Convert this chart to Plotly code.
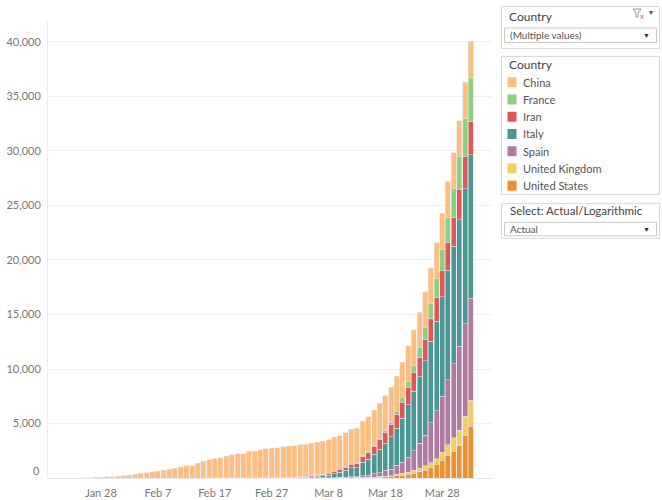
import plotly.graph_objects as go
import pandas as pd

# ---------------- data ----------------
dates = pd.date_range("2020-01-25", "2020-04-02", freq="D")
tick_dates = ["2020-01-28", "2020-02-07", "2020-02-17", "2020-02-27",
              "2020-03-08", "2020-03-18", "2020-03-28"]
tick_labels = ["Jan 28", "Feb 7", "Feb 17", "Feb 27", "Mar 8", "Mar 18", "Mar 28"]
y_ticks = [5000, 10000, 15000, 20000, 25000, 30000, 35000, 40000]

china = [26, 42, 56, 82, 131, 133, 171, 213,
         259, 361, 425, 490, 562, 632, 717, 804, 904, 1011, 1111, 1116, 1368, 1520,
         1662, 1765, 1863, 2002, 2114, 2236, 2236, 2441, 2443, 2593, 2663, 2715, 2744,
         2788, 2835,
         2870, 2912, 2945, 2981, 3013, 3042, 3070, 3097, 3120, 3136, 3158, 3173, 3180,
         3193, 3203, 3217, 3230, 3241, 3249, 3253, 3259, 3274, 3274, 3281, 3285, 3291,
         3296, 3299, 3304, 3308, 3309,
         3316]
france = [0, 0, 0, 0, 0, 0, 0, 0,
          0, 0, 0, 0, 0, 0, 0, 0, 0, 0, 0, 0, 0, 0,
          1, 1, 1, 1, 1, 1, 1, 1, 1, 1, 1, 2, 2, 2, 2,
          2, 3, 4, 4, 6, 9, 11, 19, 19, 33, 48, 48, 79, 91, 91, 148, 148, 148, 243, 450,
          562, 674, 860, 1100, 1331, 1696, 1995, 2314, 2606, 3024, 3523,
          4043]
iran = [0, 0, 0, 0, 0, 0, 0, 0,
        0, 0, 0, 0, 0, 0, 0, 0, 0, 0, 0, 0, 0, 0, 0, 0, 0, 0,
        2, 2, 4, 5, 8, 12, 16, 19, 26, 34, 43,
        54, 66, 77, 92, 107, 124, 145, 194, 237, 291, 354, 429, 514, 611, 724, 853, 988,
        1135, 1284, 1433, 1556, 1685, 1812, 1934, 2077, 2234, 2378, 2517, 2640, 2757, 2898,
        3036]
italy = [0, 0, 0, 0, 0, 0, 0, 0,
         0, 0, 0, 0, 0, 0, 0, 0, 0, 0, 0, 0, 0, 0, 0, 0, 0, 0, 0, 0,
         1, 2, 3, 7, 10, 12, 17, 21, 29,
         34, 52, 79, 107, 148, 197, 233, 366, 463, 631, 827, 827, 1266, 1441, 1809, 2158,
         2503, 2978, 3405, 4032, 4825, 5476, 6077, 6820, 7503, 8215, 9134, 10023, 10779,
         11591, 12428,
         13155]
spain = [0, 0, 0, 0, 0, 0, 0, 0,
         0, 0, 0, 0, 0, 0, 0, 0, 0, 0, 0, 0, 0, 0, 0, 0, 0, 0, 0, 0, 0, 0, 0, 0, 0, 0, 0, 0, 0,
         0, 0, 1, 2, 3, 5, 10, 17, 28, 35, 54, 55, 133, 195, 289, 342, 533, 623, 830, 1043,
         1375, 1772, 2311, 2808, 3647, 4365, 5138, 5982, 6803, 7716, 8464,
         9387]
united_kingdom = [0, 0, 0, 0, 0, 0, 0, 0,
                  0, 0, 0, 0, 0, 0, 0, 0, 0, 0, 0, 0, 0, 0, 0, 0, 0, 0, 0, 0, 0, 0, 0, 0, 0,
                  0, 0, 0, 0,
                  0, 0, 0, 0, 1, 2, 2, 3, 4, 6, 8, 8, 8, 21, 21, 56, 56, 72, 138, 178, 234, 282,
                  336, 423, 466, 580, 761, 1021, 1231, 1411, 1793,
                  2357]
united_states = [0, 0, 0, 0, 0, 0, 0, 0,
                 0, 0, 0, 0, 0, 0, 0, 0, 0, 0, 0, 0, 0, 0, 0, 0, 0, 0, 0, 0, 0, 0, 0, 0, 0,
                 0, 0, 0, 1,
                 1, 6, 7, 11, 12, 14, 17, 21, 22, 28, 36, 40, 47, 54, 63, 85, 108, 118, 200,
                 244, 307, 427, 552, 706, 942, 1209, 1581, 2026, 2467, 2978, 3873,
                 4757]

legend_names = ["China", "France", "Iran", "Italy", "Spain", "United Kingdom", "United States"]
legend_colors = ["#FFBE7D", "#8CD17D", "#E15759", "#499894", "#B07AA1", "#F1CE63", "#F28E2B"]
series = [china, france, iran, italy, spain, united_kingdom, united_states]

# ---------------- layout geometry (reference pixel coords) ----------------
W, H = 662, 500
L, R, T, B = 48, 492, 20, 478.3
FONT = "Lato"


def px(x):
    return (x - L) / (R - L)


def py(y):
    return (B - y) / (B - T)


fig = go.Figure()
# stack bottom -> top: United States ... China
for name, color, vals in reversed(list(zip(legend_names, legend_colors, series))):
    fig.add_trace(go.Bar(
        x=dates, y=vals, name=name,
        marker=dict(color=color, line=dict(color="rgba(225,225,225,0.9)", width=0.6)),
        showlegend=False,
    ))

x0 = pd.Timestamp("2020-01-28") - pd.Timedelta(days=9.32)
x1 = pd.Timestamp("2020-04-02") + pd.Timedelta(days=3.74)
ymax = (B - T) / 436.3 * 40000

shapes = []
annotations = []

# "0" label (Tableau keeps it inside the pane)
annotations.append(dict(xref="paper", yref="paper", x=px(42), y=py(471), text="0",
                        showarrow=False, xanchor="right", yanchor="middle",
                        font=dict(family=FONT, size=11, color="#777")))


def box(xa, ya, xb, yb, color="#d9d9d9"):
    shapes.append(dict(type="rect", xref="paper", yref="paper",
                       x0=px(xa), x1=px(xb), y0=py(yb), y1=py(ya),
                       line=dict(color=color, width=1), fillcolor="white", layer="below"))


def text(x, y, s, size=11, color="#555", anchor="left"):
    annotations.append(dict(xref="paper", yref="paper", x=px(x), y=py(y), text=s,
                            showarrow=False, xanchor=anchor, yanchor="middle",
                            font=dict(family=FONT, size=size, color=color)))


# Filter card
box(501.5, 6.5, 659.5, 48.5)
text(507, 16, "Country", size=12, color="#444")
box(504.5, 28, 656.5, 42.5, color="#c8c8c8")
text(508, 35.2, "(Multiple values)", size=10, color="#555")
text(646, 35.5, "▼", size=7, color="#333", anchor="center")
# filter-clear icon
shapes.append(dict(type="path", xref="paper", yref="paper",
                   path=f"M {px(633)} {py(9)} L {px(641)} {py(9)} L {px(638)} {py(13)} "
                        f"L {px(638)} {py(17)} L {px(636)} {py(17)} L {px(636)} {py(13)} Z",
                   line=dict(color="#999", width=1), fillcolor="white"))
text(641.5, 15.5, "x", size=8, color="#e15759", anchor="center")
text(651, 12, "▾", size=8, color="#555", anchor="center")

# Legend card
box(501.5, 56.5, 659.5, 194.5)
text(507, 65, "Country", size=12, color="#444")
for i, (name, color) in enumerate(zip(legend_names, legend_colors)):
    yc = 82.3 + i * 17.25
    shapes.append(dict(type="rect", xref="paper", yref="paper",
                       x0=px(507.5), x1=px(516.5), y0=py(yc + 5), y1=py(yc - 5),
                       line=dict(width=0), fillcolor=color))
    text(521, yc, name, size=11, color="#555")

# Parameter card
box(501.5, 203.5, 659.5, 238.5)
text(508, 211, "Select: Actual/Logarithmic", size=11.5, color="#444")
box(504.5, 222.5, 656.5, 236, color="#c8c8c8")
text(508, 229.5, "Actual", size=10, color="#555")
text(646, 229.5, "▼", size=7, color="#333", anchor="center")

fig.update_layout(
    width=W, height=H,
    margin=dict(l=L, r=W - R, t=T, b=H - B, pad=0, autoexpand=False),
    paper_bgcolor="white", plot_bgcolor="white",
    barmode="stack", bargap=0.12,
    showlegend=False,
    shapes=shapes, annotations=annotations,
    font=dict(family=FONT, size=11, color="#777"),
    xaxis=dict(type="date", range=[x0, x1], tickvals=tick_dates, ticktext=tick_labels,
               showgrid=False, zeroline=False, showline=False,
               ticks="outside", ticklen=5, tickcolor="rgba(0,0,0,0)",
               automargin=False,
               tickfont=dict(family=FONT, size=11, color="#777")),
    yaxis=dict(range=[0, ymax], tickvals=y_ticks, tickformat=",",
               showgrid=True, gridcolor="#f0f0f0", gridwidth=1,
               zeroline=True, zerolinecolor="#e8e8e8", zerolinewidth=1,
               showline=True, linecolor="#ececec", linewidth=1,
               ticks="outside", ticklen=4, tickcolor="rgba(0,0,0,0)",
               automargin=False,
               tickfont=dict(family=FONT, size=11, color="#777")),
)

# remove the browser's default 8px page margin so the figure sits at (0, 0)
fig.write_html("out.html",
               config={"displayModeBar": False},
               post_script="document.body.style.margin='0';"
                           "document.body.style.overflow='hidden';")
